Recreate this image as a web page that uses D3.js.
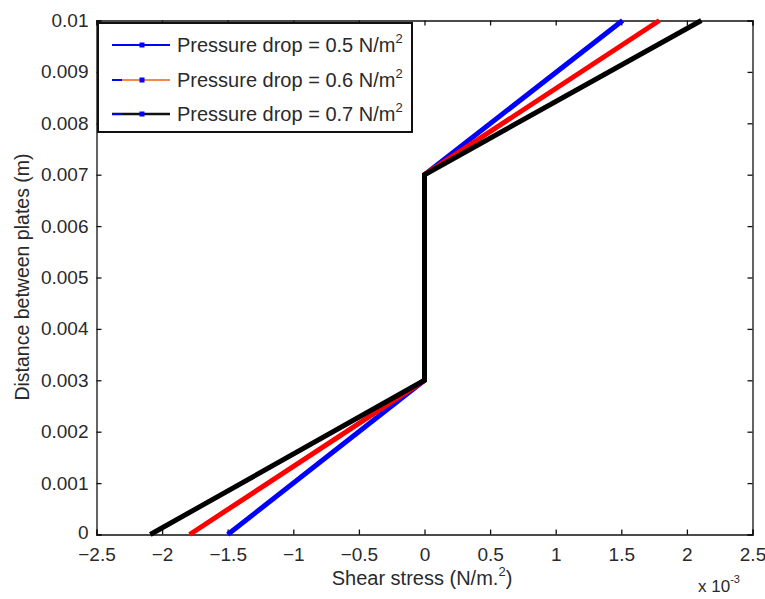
<!DOCTYPE html>
<html lang="en">
<head>
<meta charset="utf-8">
<title>Shear stress between plates</title>
<script type="text/javascript" src="https://d3js.org/d3.v7.min.js"></script>
<style>
  body { margin: 0; background: #fff; }
  text { font-family: "Liberation Sans", Arial, sans-serif; fill: #2a2a2a; }
</style>
</head>
<body>
<div id="chart"></div>
<script type="text/javascript">

var w = 765;
var h = 599;
var margin = {left: 96.5, right: 12.5, top: 20.5, bottom: 64.5};

// values (shear stress in units of 1e-3 N/m^2)
var labels = ["Pressure drop = 0.5 N/m", "Pressure drop = 0.6 N/m", "Pressure drop = 0.7 N/m"];
var colors = ["#0000ff", "#ff0000", "#000000"];
var distance = [0, 0.003, 0.007, 0.01];
var stress05 = [-1.50, 0, 0, 1.51];
var stress06 = [-1.79, 0, 0, 1.79];
var stress07 = [-2.09, 0, 0, 2.11];
var xTicks = [-2.5, -2, -1.5, -1, -0.5, 0, 0.5, 1, 1.5, 2, 2.5];
var yTicks = [0, 0.001, 0.002, 0.003, 0.004, 0.005, 0.006, 0.007, 0.008, 0.009, 0.01];

var series = [stress05, stress06, stress07];

var svg = d3.select("#chart").append("svg")
  .attr("width", w).attr("height", h);

var x = d3.scaleLinear().domain([-2.5, 2.5]).range([margin.left, w - margin.right]);
var y = d3.scaleLinear().domain([0, 0.01]).range([h - margin.bottom, margin.top]);

// axes, MATLAB style with inward ticks on all four sides
svg.append("g")
  .attr("transform", "translate(0," + y(0) + ")")
  .call(d3.axisBottom(x).tickValues(xTicks).tickSize(-5).tickPadding(13)
    .tickFormat(function(d) { return d3.format("")(d); }));
svg.append("g")
  .attr("transform", "translate(0," + y(0.01) + ")")
  .call(d3.axisTop(x).tickValues(xTicks).tickSize(-5).tickFormat(""));
var yAxis = svg.append("g")
  .attr("transform", "translate(" + x(-2.5) + ",0)")
  .call(d3.axisLeft(y).tickValues(yTicks).tickSize(-5).tickPadding(8)
    .tickFormat(function(d) { return d === 0 ? "0" : d3.format("")(+d.toFixed(3)); }));
svg.append("g")
  .attr("transform", "translate(" + x(2.5) + ",0)")
  .call(d3.axisRight(y).tickValues(yTicks).tickSize(-5).tickFormat(""));

svg.selectAll(".domain").attr("stroke", "#111").attr("stroke-width", 1.3);
svg.selectAll(".tick line").attr("stroke", "#111").attr("stroke-width", 1.3);
svg.selectAll(".tick text")
  .attr("fill", "#333")
  .style("font-family", "Liberation Sans, Arial, sans-serif")
  .style("font-size", "19px");
// lift the "0" of the y axis a little so it clears the "-2.5" below it
yAxis.selectAll(".tick text").filter(function(d) { return d === 0; })
  .attr("y", -2);

// data lines
var line = d3.line()
  .x(function(d) { return x(d[0]); })
  .y(function(d) { return y(d[1]); });

series.forEach(function(s, i) {
  var pts = s.map(function(v, j) { return [v, distance[j]]; });
  svg.append("path")
    .datum(pts)
    .attr("fill", "none")
    .attr("stroke", colors[i])
    .attr("stroke-width", 5)
    .attr("stroke-linejoin", "miter")
    .attr("d", line);
});

// legend
var lg = svg.append("g").attr("id", "legend");
lg.append("rect")
  .attr("x", 98).attr("y", 23).attr("width", 314).attr("height", 109)
  .attr("fill", "#fff").attr("stroke", "#111").attr("stroke-width", 2);

var legLine = ["#0000ff", "#f4874b", "#111111"];
var legMark = ["#0000ff", "#0000ff", "#0000ff"];
var rowY = [45, 80, 114];
labels.forEach(function(t, i) {
  lg.append("line")
    .attr("x1", 112).attr("x2", 170).attr("y1", rowY[i]).attr("y2", rowY[i])
    .attr("stroke", legLine[i]).attr("stroke-width", i === 2 ? 2.5 : 1.8);
  if (i > 0) {
    lg.append("line")
      .attr("x1", 112).attr("x2", 122).attr("y1", rowY[i]).attr("y2", rowY[i])
      .attr("stroke", "#0000ff").attr("stroke-width", 2);
  }
  lg.append("rect")
    .attr("x", 139.5).attr("y", rowY[i] - 2.5).attr("width", 5).attr("height", 5)
    .attr("fill", legMark[i]);
  var tx = lg.append("text")
    .attr("x", 177).attr("y", rowY[i] + 7)
    .style("font-size", "20px");
  tx.append("tspan").text(t);
  tx.append("tspan").text("2").attr("dy", -9).style("font-size", "13px");
});

// axis titles
svg.append("text")
  .attr("x", 422).attr("y", 585)
  .attr("text-anchor", "middle")
  .style("font-size", "20px")
  .call(function(t) {
    t.append("tspan").text("Shear stress (N/m.");
    t.append("tspan").text("2").attr("dy", -9).style("font-size", "13px");
    t.append("tspan").text(")").attr("dy", 9);
  });

svg.append("text")
  .attr("transform", "translate(29," + 277 + ") rotate(-90)")
  .attr("text-anchor", "middle")
  .style("font-size", "19.5px")
  .text("Distance between plates (m)");

svg.append("text")
  .attr("x", 698).attr("y", 592)
  .style("font-size", "17px")
  .call(function(t) {
    t.append("tspan").text("x 10");
    t.append("tspan").text("-3").attr("dy", -9).style("font-size", "11px");
  });

</script>
</body>
</html>
